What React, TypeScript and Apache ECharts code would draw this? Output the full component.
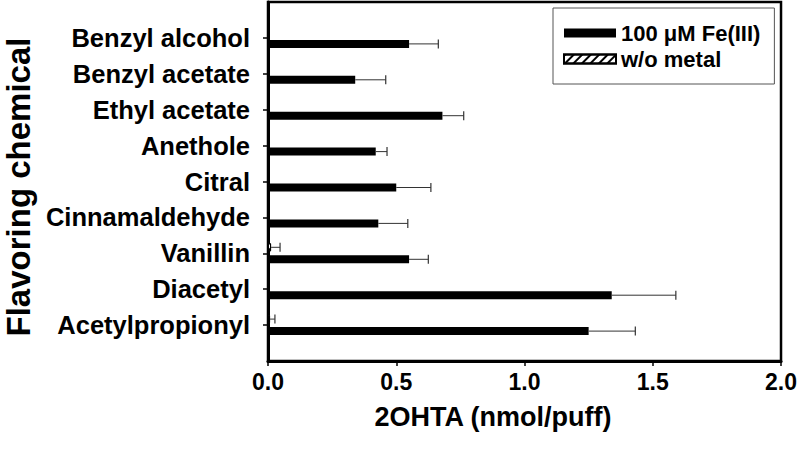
import React, { useEffect, useRef } from "react";
import * as echarts from "echarts";

// Categories listed top to bottom
const categories = [
  "Benzyl alcohol",
  "Benzyl acetate",
  "Ethyl acetate",
  "Anethole",
  "Citral",
  "Cinnamaldehyde",
  "Vanillin",
  "Diacetyl",
  "Acetylpropionyl",
];
const feValues = [0.55, 0.34, 0.68, 0.42, 0.5, 0.43, 0.55, 1.34, 1.25];
const feErrors = [0.114, 0.119, 0.083, 0.044, 0.135, 0.115, 0.075, 0.25, 0.182];
const noMetalValues = [0, 0, 0, 0, 0, 0, 0.012, 0, 0.008];
const noMetalErrors = [0, 0, 0, 0, 0, 0, 0.035, 0, 0.019];
const xTicks = [0, 0.5, 1.0, 1.5, 2.0];

const FE_NAME = "100 \u03bcM Fe(III)";
const NO_NAME = "w/o metal";
const FONT = "'Liberation Sans', Arial, Helvetica, sans-serif";

export default function App() {
  const ref = useRef<HTMLDivElement>(null);
  useEffect(() => {
    if (!ref.current) return;
    const chart = echarts.init(ref.current, undefined, { renderer: "svg" });
    // padded categories so the axis extends half a band beyond first/last ticks
    const cats = ["", ...categories, ""];
    const pad = (arr: number[]) => [null, ...arr, null];
    const errData = (vals: number[], errs: number[]) =>
      vals.map((v, i) => [i + 1, v, errs[i]]).filter((d) => (d[2] as number) > 0);

    const errSeries = (name: string, vals: number[], errs: number[], offset: number) => ({
      type: "custom",
      name,
      encode: { y: 0, x: 1 },
      data: errData(vals, errs),
      z: 3,
      renderItem: (params: any, api: any) => {
        const c = api.value(0);
        const v = api.value(1);
        const e = api.value(2);
        const p0 = api.coord([v, c]);
        const p1 = api.coord([v + e, c]);
        const y = p0[1] + offset;
        return {
          type: "group",
          children: [
            { type: "line", shape: { x1: p0[0], y1: y, x2: p1[0], y2: y }, style: { stroke: "#333", lineWidth: 1 } },
            { type: "line", shape: { x1: p1[0], y1: y - 4.5, x2: p1[0], y2: y + 4.5 }, style: { stroke: "#333", lineWidth: 1.2 } },
          ],
        };
      },
    });

    chart.setOption({
      animation: false,
      backgroundColor: "#fff",
      grid: {
        left: 268,
        right: 18,
        top: 2,
        bottom: 102,
        show: true,
        borderColor: "#000",
        borderWidth: 2.5,
        backgroundColor: "transparent",
      },
      legend: {
        data: [
          { name: FE_NAME, icon: "rect" },
          { name: NO_NAME, icon: "rect" },
        ],
        orient: "vertical",
        left: 553,
        top: 8,
        padding: [14, 14, 14, 10],
        itemWidth: 52,
        itemHeight: 9,
        itemGap: 4,
        itemTextGap: 13,
        borderColor: "#555",
        borderWidth: 1,
        backgroundColor: "#fff",
        selectedMode: false,
        textStyle: { fontFamily: FONT, fontWeight: "bold", fontSize: 22, color: "#000", lineHeight: 22 },
      },
      xAxis: {
        type: "value",
        min: 0,
        max: 2,
        interval: 0.5,
        axisLine: { show: true, lineStyle: { color: "#000", width: 3 } },
        axisTick: { show: true, length: 5, lineStyle: { color: "#000", width: 1.5 } },
        splitLine: { show: false },
        axisLabel: {
          margin: 9,
          fontFamily: FONT,
          fontWeight: "bold",
          fontSize: 23,
          color: "#000",
          formatter: (v: number) => (xTicks.includes(v) ? v.toFixed(1) : ""),
        },
      },
      yAxis: {
        type: "category",
        data: cats,
        inverse: true,
        boundaryGap: false,
        axisLine: { show: true, lineStyle: { color: "#000", width: 3 } },
        axisTick: {
          show: true,
          length: 5,
          interval: (i: number, v: string) => v !== "",
          lineStyle: { color: "#000", width: 1.5 },
        },
        axisLabel: {
          margin: 18,
          interval: 0,
          fontFamily: FONT,
          fontWeight: "bold",
          fontSize: 25.5,
          color: "#000",
        },
        splitLine: { show: false },
      },
      series: [
        {
          type: "bar",
          name: NO_NAME,
          data: pad(noMetalValues),
          barWidth: 8,
          barGap: "50%",
          itemStyle: {
            color: "#fff",
            borderColor: "#000",
            borderWidth: 1,
            decal: {
              symbol: "rect",
              symbolSize: 1,
              color: "#000",
              dashArrayX: [1, 0],
              dashArrayY: [1.5, 4],
              rotation: -Math.PI / 4,
            },
          },
        },
        {
          type: "bar",
          name: FE_NAME,
          data: pad(feValues),
          barWidth: 8,
          barGap: "50%",
          itemStyle: { color: "#000" },
        },
        errSeries("errNo", noMetalValues, noMetalErrors, -6),
        errSeries("errFe", feValues, feErrors, 6),
      ],
      graphic: [
        {
          type: "text",
          x: 493,
          y: 417,
          style: {
            text: "2OHTA (nmol/puff)",
            fontFamily: FONT,
            fontWeight: "bold",
            fontSize: 27,
            fill: "#000",
            align: "center",
            verticalAlign: "middle",
          },
        },
        {
          type: "text",
          x: 18,
          y: 187,
          rotation: Math.PI / 2,
          style: {
            text: "Flavoring chemical",
            fontFamily: FONT,
            fontWeight: "bold",
            fontSize: 33,
            fill: "#000",
            align: "center",
            verticalAlign: "middle",
          },
        },
      ],
    });
    return () => chart.dispose();
  }, []);
  return (
    <div
      ref={ref}
      style={{ position: "fixed", left: 0, top: 0, width: 800, height: 463, background: "#fff" }}
    />
  );
}
